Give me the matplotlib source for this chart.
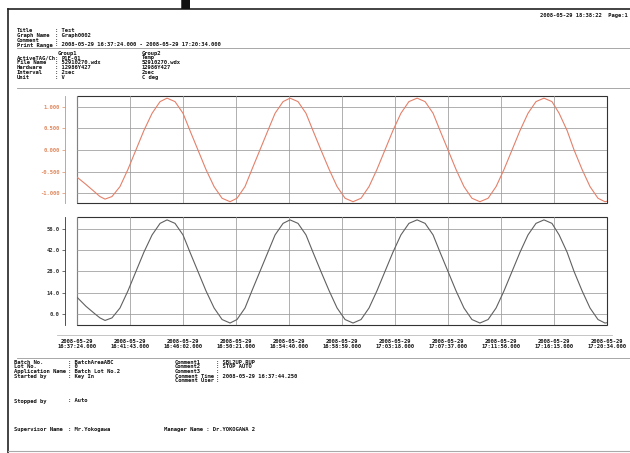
import matplotlib
matplotlib.use("Agg")
import matplotlib.pyplot as plt
from matplotlib.lines import Line2D
from matplotlib.patches import Rectangle

# elapsed seconds from 2008-05-29 16:37:24.000
t_sec = [0, 44, 88, 112, 137, 171, 210, 249, 288, 327, 367, 406, 440, 479, 518,
         552, 591, 630, 670, 709, 748, 782, 821, 855, 894, 933, 968, 1007, 1041,
         1080, 1119, 1153, 1192, 1232, 1271, 1310, 1349, 1388, 1427, 1466, 1505,
         1544, 1583, 1622, 1662, 1701, 1740, 1774, 1813, 1852, 1891, 1930, 1969,
         2009, 2048, 2087, 2126, 2165, 2204, 2243, 2282, 2321, 2356, 2395, 2429,
         2468, 2507, 2546, 2580, 2590]

# Group1  P1E-01  [V]
volt = [-0.63, -0.80, -0.98, -1.08, -1.14, -1.08, -0.85, -0.45, 0.00, 0.45, 0.85,
        1.12, 1.20, 1.12, 0.85, 0.45, 0.00, -0.45, -0.85, -1.12, -1.20, -1.12,
        -0.85, -0.45, 0.00, 0.45, 0.85, 1.12, 1.20, 1.12, 0.85, 0.45, 0.00, -0.45,
        -0.85, -1.12, -1.20, -1.12, -0.85, -0.45, 0.00, 0.45, 0.85, 1.12, 1.20,
        1.12, 0.85, 0.45, 0.00, -0.45, -0.85, -1.12, -1.20, -1.12, -0.85, -0.45,
        0.00, 0.45, 0.85, 1.12, 1.20, 1.12, 0.85, 0.45, 0.00, -0.45, -0.85, -1.12,
        -1.20, -1.19]

# Group2  Temp  [C deg]
temp = [11.0, 5.0, 0.0, -2.6, -4.3, -2.6, 3.9, 15.2, 28.0, 40.7, 52.1, 59.7, 62.0,
        59.7, 52.1, 40.7, 28.0, 15.3, 3.9, -3.7, -6.0, -3.7, 3.9, 15.3, 28.0, 40.7,
        52.1, 59.7, 62.0, 59.7, 52.1, 40.7, 28.0, 15.3, 3.9, -3.7, -6.0, -3.7, 3.9,
        15.3, 28.0, 40.7, 52.1, 59.7, 62.0, 59.7, 52.1, 40.7, 28.0, 15.3, 3.9, -3.7,
        -6.0, -3.7, 3.9, 15.3, 28.0, 40.7, 52.1, 59.7, 62.0, 59.7, 52.1, 40.7, 28.0,
        15.3, 3.9, -3.7, -6.0, -5.8]

tick_secs = [0, 259, 518, 777, 1036, 1295, 1554, 1813, 2072, 2331, 2590]
tick_labels = ["2008-05-29\n16:37:24.000", "2008-05-29\n16:41:43.000",
               "2008-05-29\n16:46:02.000", "2008-05-29\n16:50:21.000",
               "2008-05-29\n16:54:40.000", "2008-05-29\n16:58:59.000",
               "2008-05-29\n17:03:18.000", "2008-05-29\n17:07:37.000",
               "2008-05-29\n17:11:56.000", "2008-05-29\n17:16:15.000",
               "2008-05-29\n17:20:34.000"]
volt_ticks = [-1.0, -0.5, 0.0, 0.5, 1.0]
temp_ticks = [0.0, 14.0, 28.0, 42.0, 56.0]

W, H = 630, 453
fig = plt.figure(figsize=(6.3, 4.53), dpi=100)
fig.patch.set_facecolor("white")

MONO = "DejaVu Sans Mono"
TXT = "#151515"
FS = 4.0


def px(x, y):
    return x / W, 1 - y / H


def put(x, y, s, **kw):
    fx, fy = px(x, y)
    kw.setdefault("fontsize", FS)
    kw.setdefault("color", TXT)
    kw.setdefault("family", MONO)
    kw.setdefault("weight", "bold")
    fig.text(fx, fy, s, va="center", ha=kw.pop("ha", "left"), **kw)


def hline(x0, x1, y, color="#999999", lw=0.6):
    fig.add_artist(Line2D([x0 / W, x1 / W], [1 - y / H, 1 - y / H],
                          color=color, lw=lw, transform=fig.transFigure))


def vline(x, y0, y1, color="#111111", lw=1.0):
    fig.add_artist(Line2D([x / W, x / W], [1 - y0 / H, 1 - y1 / H],
                          color=color, lw=lw, transform=fig.transFigure))


# page frame
hline(8, 630, 9, color="#222222", lw=1.2)
vline(8, 9, 453, color="#222222", lw=1.2)
hline(8, 630, 451, color="#aaaaaa", lw=0.8)

# cropped caption above the page (only the descender shows)
fig.text(195 / W, 1.0 + 1.5 / H, "p", fontsize=36, weight="heavy",
         color="#111111", ha="center", va="baseline")

put(628, 15, "2008-05-29 18:38:22  Page:1", ha="right")

# header block
hdr = [("Title", ": Test"), ("Graph Name", ": Graph0002"), ("Comment", ":"),
       ("Print Range", ": 2008-05-29 16:37:24.000 - 2008-05-29 17:20:34.000")]
for i, (k, v) in enumerate(hdr):
    put(17, 30 + i * 5, k)
    put(55, 30 + i * 5, v)
hline(17, 630, 48)

put(58, 53, "Group1")
put(142, 53, "Group2")
rows = [("ActiveTAG/Ch:", "P1E-01", "Temp"), ("File Name", "52910270.wdx", "52910270.wdx"),
        ("Hardware", "12986Y427", "12986Y427"), ("Interval", "2sec", "2sec"),
        ("Unit", "V", "C deg")]
for i, (k, a, b) in enumerate(rows):
    y = 58 + i * 4.8
    put(17, y, k)
    put(62 if i == 0 else 55, y, ": " + a if i else a)
    put(142, y, b)
hline(17, 630, 88)

# chart panels
specs = [
    (96, 203, volt, "#e4806a", volt_ticks, (-1.23, 1.25), "{:.3f}", "#e08a60"),
    (217, 325, temp, "#606060", temp_ticks, (-7.3, 63.9), "{:.1f}", "#333333"),
]
axes = []
for y0, y1, vals, col, yt, yl, fmt, tcol in specs:
    l, b = px(77, y1)
    ax = fig.add_axes([l, b, 530 / W, (y1 - y0) / H])
    ax.plot(t_sec, vals, color=col, lw=0.8)
    ax.set_xlim(0, 2590)
    ax.set_ylim(*yl)
    ax.grid(True, color="#9a9a9a", lw=0.55)
    for s in ["top", "right", "bottom"]:
        ax.spines[s].set_visible(False)
    ax.spines["left"].set_position(("outward", 9))
    ax.spines["left"].set_color(tcol)
    ax.spines["left"].set_linewidth(0.6)
    ax.tick_params(axis="y", length=2, width=0.5, pad=1.5, color=tcol,
                   labelsize=FS, labelcolor=tcol)
    ax.tick_params(axis="x", length=0)
    ax.set_xticks(tick_secs)
    ax.set_yticks(yt)
    ax.set_yticklabels([fmt.format(v) for v in yt], fontsize=FS, family=MONO,
                       weight="bold", color=tcol)
    ax.add_patch(Rectangle((0, 0), 1, 1, transform=ax.transAxes, fill=False,
                           edgecolor="#333333", lw=0.8, clip_on=False))
    axes.append(ax)

axes[0].set_xticklabels([])
axes[1].tick_params(axis="x", pad=10)
axes[1].set_xticklabels(tick_labels, fontsize=FS, family=MONO, weight="bold",
                        color=TXT, linespacing=0.95)

hline(57, 612, 335, color="#bbbbbb")
hline(17, 630, 358)

# batch info
left = [("Batch No.", ": BatchAreaABC"), ("Lot No.", ": 0"),
        ("Application Name", ": Batch Lot No.2"), ("Started by", ": Key In")]
for i, (k, v) in enumerate(left):
    put(14, 362 + i * 4.7, k)
    put(68, 362 + i * 4.7, v)
right = [("Comment1", ": SBL2UP.RUP"), ("Comment2", ": STOP AUTO"), ("Comment3", ":"),
         ("Comment Time", ": 2008-05-29 16:37:44.250"), ("Comment User", ":")]
for i, (k, v) in enumerate(right):
    put(175, 362 + i * 4.7, k)
    put(216, 362 + i * 4.7, v)

put(14, 401, "Stopped by")
put(68, 401, ": Auto")
put(14, 429, "Supervisor Name")
put(68, 429, ": Mr.Yokogawa")
put(164, 429, "Manager Name : Dr.YOKOGAWA 2")

fig.savefig("out.png", dpi=100, facecolor="white")
